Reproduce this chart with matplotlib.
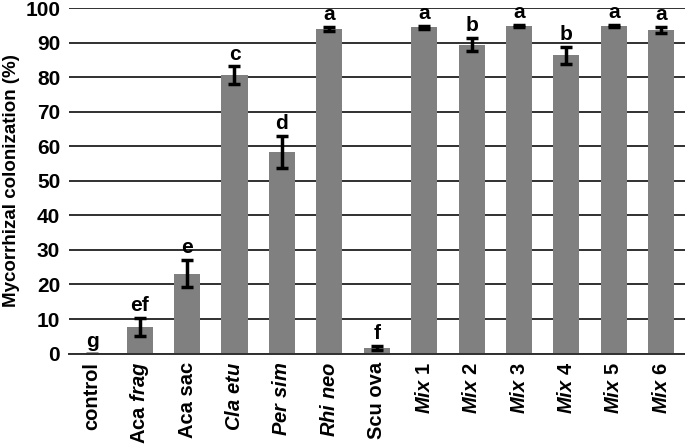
from matplotlib import pyplot as plt
import numpy as np

# Data
labels = ["control", r"Aca $\mathit{frag}$", "Aca sac", r"$\mathit{Cla\ etu}$",
          r"$\mathit{Per\ sim}$", r"$\mathit{Rhi\ neo}$", "Scu ova",
          r"$\mathit{Mix\ 1}$", r"$\mathit{Mix\ 2}$", r"$\mathit{Mix\ 3}$",
          r"$\mathit{Mix\ 4}$", r"$\mathit{Mix\ 5}$", r"$\mathit{Mix\ 6}$"]
means  = [0.0, 7.7, 23.1, 80.6, 58.3, 93.9, 1.65, 94.4, 89.4, 94.9, 86.3, 94.9, 93.6]
errors = [0.0, 2.7, 3.9, 2.5, 4.7, 0.5, 0.5, 0.4, 1.95, 0.3, 2.5, 0.3, 0.9]
letters = ["g", "ef", "e", "c", "d", "a", "f", "a", "b", "a", "b", "a", "a"]

plt.rcParams["font.family"] = "Liberation Sans"
plt.rcParams["font.weight"] = "bold"
plt.rcParams["mathtext.fontset"] = "custom"
plt.rcParams["mathtext.rm"] = "Liberation Sans:bold"
plt.rcParams["mathtext.it"] = "Liberation Sans:bold:italic"

fig = plt.figure(figsize=(6.85, 4.47), dpi=100)
ax = fig.add_axes([0.1, 0.209, 0.9, 0.773])

x = np.arange(len(means))
ax.set_axisbelow(True)
ax.yaxis.grid(True, color="#303030", linewidth=1.4)
ax.bar(x, means, width=0.55, color="#808080")
ax.errorbar(x, means, yerr=errors, fmt="none", ecolor="black",
            elinewidth=2.5, capsize=4, capthick=2.5)

for xi, m, e, l in zip(x, means, errors, letters):
    ax.text(xi, m + e + 2.0, l, ha="center", va="baseline",
            fontsize=15, fontweight="bold")

ax.set_xlim(-0.5, len(means) - 0.5)
ax.set_ylim(0, 100)
ax.set_yticks(np.arange(0, 101, 10))
ax.set_xticks(x)
ax.set_xticklabels(labels, rotation=90, fontsize=14.5, fontweight="bold")
ax.tick_params(axis="y", labelsize=15, length=0, pad=6)
ax.tick_params(axis="x", length=0, pad=6)
for side in ["top", "right", "left"]:
    ax.spines[side].set_visible(False)
ax.spines["bottom"].set_color("#303030")
ax.spines["bottom"].set_linewidth(1.4)
ax.set_ylabel("Mycorrhizal colonization (%)", fontsize=13.5, fontweight="bold",
              labelpad=4)

fig.savefig("out.png", dpi=100)
